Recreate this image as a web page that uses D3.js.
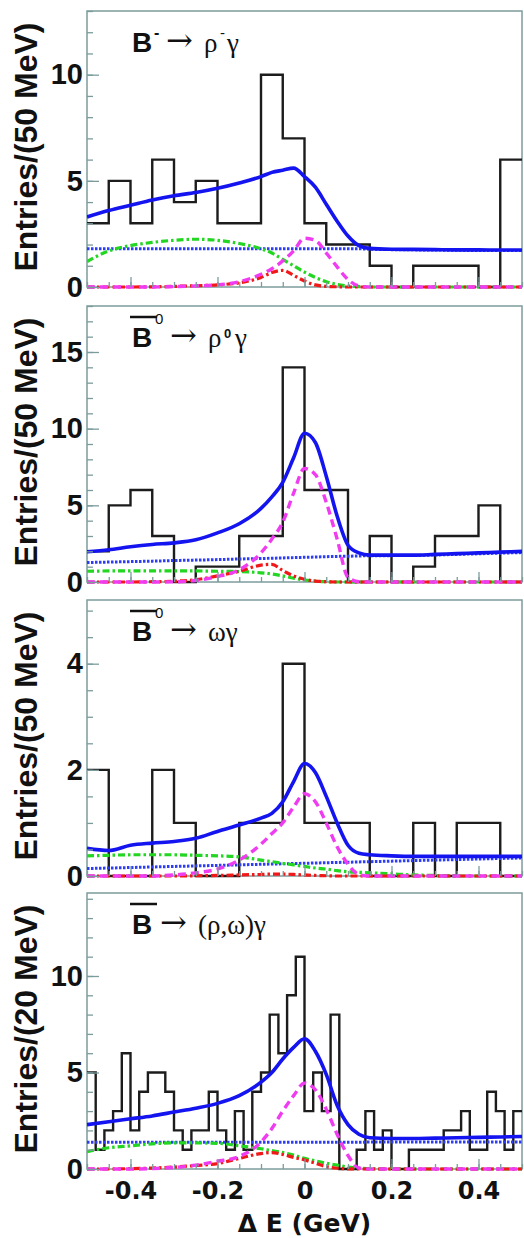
<!DOCTYPE html>
<html lang="en">
<head>
<meta charset="UTF-8">
<title>Delta E fits</title>
<script src="https://cdn.jsdelivr.net/npm/d3@7"></script>
<style>
body { margin: 0; background: #fff; }
svg text { fill: #111; }
</style>
</head>
<body>
<div id="output"></div>
<script>

var fitX = [-0.5, -0.45, -0.4, -0.35, -0.3, -0.25, -0.2, -0.15, -0.1, -0.075, -0.05, -0.025,
            0, 0.025, 0.05, 0.075, 0.1, 0.125, 0.15, 0.2, 0.25, 0.3, 0.35, 0.4, 0.45, 0.5];

// panel 1 : B- -> rho- gamma  (50 MeV bins)
var counts1 = [3, 5, 3, 6, 4, 5, 3, 3, 10, 7, 3, 2, 2, 1, 0, 1, 1, 1, 0, 6];
var total1  = [3.3, 3.6, 3.85, 4.1, 4.3, 4.45, 4.65, 4.9, 5.2, 5.4, 5.5, 5.6, 5.2, 4.7, 3.9, 3.1, 2.4, 1.95, 1.82, 1.78, 1.77, 1.76, 1.75, 1.75, 1.74, 1.74];
var cont1   = [1.8, 1.8, 1.8, 1.8, 1.8, 1.8, 1.8, 1.8, 1.8, 1.8, 1.8, 1.8, 1.8, 1.8, 1.8, 1.8, 1.8, 1.8, 1.78, 1.76, 1.75, 1.74, 1.73, 1.72, 1.72, 1.72];
var green1  = [1.2, 1.7, 1.95, 2.1, 2.2, 2.25, 2.2, 2.05, 1.8, 1.6, 1.3, 1.0, 0.7, 0.45, 0.25, 0.12, 0.05, 0.02, 0, 0, 0, 0, 0, 0, 0, 0];
var red1    = [0, 0, 0, 0.01, 0.03, 0.06, 0.1, 0.2, 0.45, 0.68, 0.78, 0.55, 0.28, 0.1, 0.03, 0.01, 0, 0, 0, 0, 0, 0, 0, 0, 0, 0];
var signal1 = [0, 0, 0, 0, 0.02, 0.05, 0.1, 0.25, 0.6, 0.86, 1.23, 1.7, 2.3, 2.2, 1.6, 0.95, 0.35, 0.05, 0, 0, 0, 0, 0, 0, 0, 0];

// panel 2 : B0bar -> rho0 gamma  (50 MeV bins)
var counts2 = [2, 5, 6, 3, 0, 1, 1, 3, 3, 14, 6, 6, 0, 3, 0, 1, 3, 3, 5, 0];
var total2  = [1.97, 2.1, 2.3, 2.45, 2.55, 2.75, 3.2, 3.8, 4.8, 5.55, 6.5, 8.1, 9.7, 9.1, 6.9, 4.3, 2.4, 1.9, 1.75, 1.75, 1.75, 1.8, 1.85, 1.9, 1.95, 2.0];
var cont2   = [1.27, 1.3, 1.33, 1.36, 1.4, 1.43, 1.46, 1.5, 1.53, 1.55, 1.57, 1.59, 1.61, 1.63, 1.65, 1.67, 1.68, 1.7, 1.71, 1.72, 1.73, 1.76, 1.8, 1.84, 1.88, 1.92];
var green2  = [0.7, 0.72, 0.72, 0.72, 0.72, 0.72, 0.7, 0.68, 0.6, 0.52, 0.4, 0.25, 0.13, 0.06, 0.02, 0, 0, 0, 0, 0, 0, 0, 0, 0, 0, 0];
var red2    = [0, 0, 0, 0.02, 0.05, 0.15, 0.4, 0.7, 1.1, 1.15, 0.75, 0.4, 0.18, 0.06, 0.02, 0, 0, 0, 0, 0, 0, 0, 0, 0, 0, 0];
var signal2 = [0, 0, 0, 0, 0.01, 0.1, 0.35, 0.8, 1.9, 2.8, 3.9, 5.8, 7.4, 7.0, 5.2, 2.8, 0.3, 0.02, 0, 0, 0, 0, 0, 0, 0, 0];

// panel 3 : B0bar -> omega gamma  (50 MeV bins)
var counts3 = [2, 0, 0, 2, 1, 0, 0, 1, 1, 4, 1, 1, 1, 0, 0, 1, 0, 1, 1, 0];
var total3  = [0.52, 0.48, 0.58, 0.62, 0.65, 0.71, 0.84, 0.96, 1.09, 1.18, 1.4, 1.78, 2.12, 1.95, 1.5, 1.0, 0.58, 0.43, 0.4, 0.38, 0.37, 0.37, 0.37, 0.37, 0.37, 0.37];
var cont3   = [0.14, 0.15, 0.16, 0.17, 0.18, 0.19, 0.2, 0.21, 0.22, 0.225, 0.23, 0.235, 0.24, 0.245, 0.25, 0.255, 0.26, 0.265, 0.27, 0.28, 0.29, 0.3, 0.31, 0.32, 0.33, 0.34];
var green3  = [0.38, 0.39, 0.4, 0.4, 0.4, 0.39, 0.38, 0.36, 0.3, 0.27, 0.24, 0.21, 0.18, 0.15, 0.13, 0.1, 0.08, 0.07, 0.06, 0.04, 0.02, 0.01, 0, 0, 0, 0];
var red3    = [0, 0, 0, 0, 0, 0.005, 0.01, 0.02, 0.03, 0.035, 0.035, 0.03, 0.02, 0.01, 0.005, 0, 0, 0, 0, 0, 0, 0, 0, 0, 0, 0];
var signal3 = [0, 0, 0, 0, 0.02, 0.06, 0.13, 0.3, 0.6, 0.8, 1.0, 1.3, 1.55, 1.4, 1.0, 0.55, 0.22, 0.03, 0, 0, 0, 0, 0, 0, 0, 0];

// panel 4 : Bbar -> (rho,omega) gamma  (20 MeV bins)
var counts4 = [5, 1, 2, 3, 6, 2, 4, 5, 5, 4, 2, 1, 2, 2, 4, 2, 1, 3, 1, 4,
               5, 8, 6, 9, 11, 3, 5, 3, 8, 0, 0, 1, 3, 1, 2, 0, 0, 1, 1, 1,
               1, 2, 2, 3, 1, 1, 4, 3, 1, 3];
var total4  = [2.3, 2.45, 2.6, 2.75, 2.95, 3.15, 3.4, 3.8, 4.5, 5.0, 5.7, 6.3, 6.75, 6.1, 4.9, 3.3, 2.3, 1.8, 1.62, 1.58, 1.58, 1.6, 1.62, 1.64, 1.66, 1.68];
var cont4   = [1.38, 1.38, 1.38, 1.38, 1.38, 1.38, 1.38, 1.38, 1.38, 1.38, 1.38, 1.38, 1.38, 1.38, 1.38, 1.38, 1.38, 1.38, 1.4, 1.4, 1.4, 1.4, 1.4, 1.4, 1.4, 1.4];
var green4  = [0.9, 1.1, 1.2, 1.3, 1.35, 1.35, 1.33, 1.2, 1.05, 0.95, 0.85, 0.72, 0.55, 0.42, 0.3, 0.2, 0.1, 0.05, 0.02, 0, 0, 0, 0, 0, 0, 0];
var red4    = [0, 0, 0.02, 0.05, 0.1, 0.18, 0.28, 0.55, 0.8, 0.85, 0.75, 0.6, 0.47, 0.3, 0.12, 0.04, 0.01, 0, 0, 0, 0, 0, 0, 0, 0, 0];
var signal4 = [0, 0, 0, 0.02, 0.08, 0.2, 0.4, 0.65, 1.4, 2.1, 3.0, 3.8, 4.45, 4.1, 3.1, 1.8, 0.7, 0.05, 0, 0, 0, 0, 0, 0, 0, 0];

var binWidths = [0.05, 0.05, 0.05, 0.02];
var yMaxes = [13, 18, 5.2, 14.3];
var yMajorTicks = [[0, 5, 10], [0, 5, 10, 15], [0, 2, 4], [0, 5, 10]];
var yMinorSteps = [1, 1, 0.5, 1];
var yTitles = ["Entries/(50 MeV)", "Entries/(50 MeV)", "Entries/(50 MeV)", "Entries/(20 MeV)"];
var xMajorTicks = [-0.4, -0.2, 0, 0.2, 0.4];
var xTitle = "\u0394 E (GeV)";

var W = 524, H = 1238;
var left = 87, right = 522;
var tops = [11, 306, 600, 893];
var plotH = 276;

var svg = d3.select("#output").append("svg")
    .attr("width", W).attr("height", H)
    .style("display", "block");

var x = d3.scaleLinear().domain([-0.5, 0.5]).range([left, right]);

var frameColor = "#7c9c9c";
var sans = "'Liberation Sans', Arial, sans-serif";
var serif = "'Liberation Serif', 'DejaVu Serif', serif";
var arrowFont = "'DejaVu Serif', serif";

// plain hyphen for negative labels, like the original
var fmt = d3.formatLocale({decimal: ".", thousands: ",", grouping: [3], currency: ["", ""], minus: "-"}).format("");
var intFmt = d3.format("d");

var panels = [
    {counts: counts1, total: total1, cont: cont1, green: green1, red: red1, signal: signal1},
    {counts: counts2, total: total2, cont: cont2, green: green2, red: red2, signal: signal2},
    {counts: counts3, total: total3, cont: cont3, green: green3, red: red3, signal: signal3},
    {counts: counts4, total: total4, cont: cont4, green: green4, red: red4, signal: signal4}
];

panels.forEach(function(p, i){
    var top = tops[i], bottom = top + plotH;
    var y = d3.scaleLinear().domain([0, yMaxes[i]]).range([bottom, top]);
    var g = svg.append("g");

    // frame
    g.append("rect").attr("x", left).attr("y", top)
        .attr("width", right - left).attr("height", plotH)
        .attr("fill", "none").attr("stroke", frameColor).attr("stroke-width", 1.5);

    g.append("clipPath").attr("id", "clip" + i)
        .append("rect").attr("x", left).attr("y", top)
        .attr("width", right - left + 1).attr("height", plotH + 3);

    var plot = g.append("g").attr("clip-path", "url(#clip" + i + ")");

    // histogram as a step line
    var bw = binWidths[i];
    var steps = p.counts.map(function(c, k){ return [-0.5 + k * bw, c]; });
    steps.push([0.5, p.counts[p.counts.length - 1]]);
    var stepLine = d3.line()
        .x(function(d){ return x(d[0]); })
        .y(function(d){ return y(d[1]); })
        .curve(d3.curveStepAfter);
    plot.append("path").attr("d", stepLine(steps))
        .attr("fill", "none").attr("stroke", "#1c1c1c").attr("stroke-width", 2.4);

    var fitLine = d3.line()
        .x(function(d, k){ return x(fitX[k]); })
        .y(function(d){ return y(d); })
        .curve(d3.curveMonotoneX);

    var styles = [
        {data: p.cont,   color: "#2b3cff", width: 3,   dash: "2.5,1.5"},
        {data: p.green,  color: "#22d622", width: 3.2, dash: "7,3,2.5,3"},
        {data: p.red,    color: "#f01818", width: 3.2, dash: "7,3,2.5,3"},
        {data: p.signal, color: "#f03cf0", width: 3.4, dash: "8,5"},
        {data: p.total,  color: "#1414f0", width: 3.6, dash: null}
    ];
    styles.forEach(function(s){
        plot.append("path").attr("d", fitLine(s.data))
            .attr("fill", "none")
            .attr("stroke", s.color)
            .attr("stroke-width", s.width)
            .attr("stroke-dasharray", s.dash);
    });

    // y axis, ticks pointing inwards
    var yMinor = d3.range(0, yMaxes[i] + 1e-9, yMinorSteps[i]);
    g.append("g").attr("transform", "translate(" + left + ",0)")
        .call(d3.axisLeft(y).tickValues(yMinor).tickSize(-6).tickSizeOuter(0).tickFormat(""))
        .call(styleAxis);
    g.append("g").attr("transform", "translate(" + left + ",0)")
        .call(d3.axisLeft(y).tickValues(yMajorTicks[i]).tickSize(-12).tickSizeOuter(0)
            .tickPadding(4).tickFormat(intFmt))
        .call(styleAxis)
        .selectAll("text")
            .attr("font-family", sans).attr("font-weight", "bold").attr("font-size", 29)
            .attr("fill", "#111");

    // x axis
    var xMinor = d3.range(-0.5, 0.5001, 0.05);
    g.append("g").attr("transform", "translate(0," + bottom + ")")
        .call(d3.axisBottom(x).tickValues(xMinor).tickSize(-5).tickSizeOuter(0).tickFormat(""))
        .call(styleAxis);
    var xa = g.append("g").attr("transform", "translate(0," + bottom + ")")
        .call(d3.axisBottom(x).tickValues(xMajorTicks).tickSize(-10).tickSizeOuter(0).tickPadding(13)
            .tickFormat(i === 3 ? fmt : ""))
        .call(styleAxis);
    xa.selectAll("text")
        .attr("font-family", "'DejaVu Sans', sans-serif").attr("font-weight", "bold")
        .attr("font-size", 24).attr("fill", "#111");

    // y title
    g.append("text")
        .attr("transform", "translate(37," + ((top + bottom) / 2 - 2) + ") rotate(-90)")
        .attr("text-anchor", "middle")
        .attr("font-family", sans).attr("font-weight", "bold").attr("font-size", 32)
        .text(yTitles[i]);

    drawTitle(g, i, top);
});

// x title under the last panel
svg.append("text")
    .attr("x", x(0)).attr("y", 1232)
    .attr("text-anchor", "middle")
    .attr("font-family", "'DejaVu Sans', sans-serif").attr("font-weight", "bold").attr("font-size", 25)
    .text(xTitle);

function styleAxis(sel){
    sel.select(".domain").remove();
    sel.selectAll(".tick line").attr("stroke", frameColor).attr("stroke-width", 1.3);
}

function put(g, str, px, py, size, family, weight){
    g.append("text").attr("x", px).attr("y", py)
        .attr("font-family", family).attr("font-size", size)
        .attr("font-weight", weight || "normal")
        .text(str);
}

function drawTitle(g, i, top){
    var by = top + 41;
    put(g, "B", 132, by, 28, sans, "bold");
    if (i > 0) {
        g.append("line").attr("x1", 130).attr("x2", 157)
            .attr("y1", top + 11).attr("y2", top + 11)
            .attr("stroke", "#111").attr("stroke-width", 2.5);
    }
    if (i === 0) {
        put(g, "-", 154, top + 27, 16, sans, "bold");
        put(g, "\u2192", 166, by - 1, 32, arrowFont);
        put(g, "\u03c1", 204, by, 27, serif);
        put(g, "-", 220, top + 27, 15, sans);
        put(g, "\u03b3", 227, by, 27, serif);
    } else if (i === 1) {
        put(g, "0", 155, top + 18, 15, sans);
        put(g, "\u2192", 170, by - 1, 32, arrowFont);
        put(g, "\u03c1", 208, by, 27, serif);
        put(g, "0", 224, top + 32, 13, sans, "bold");
        put(g, "\u03b3", 235, by, 27, serif);
    } else if (i === 2) {
        put(g, "0", 155, top + 18, 15, sans);
        put(g, "\u2192", 170, by - 1, 32, arrowFont);
        put(g, "\u03c9\u03b3", 208, by, 27, serif);
    } else {
        put(g, "\u2192", 160, by - 1, 32, arrowFont);
        put(g, "(\u03c1,\u03c9)\u03b3", 198, by, 27, serif);
    }
}

</script>
</body>
</html>
